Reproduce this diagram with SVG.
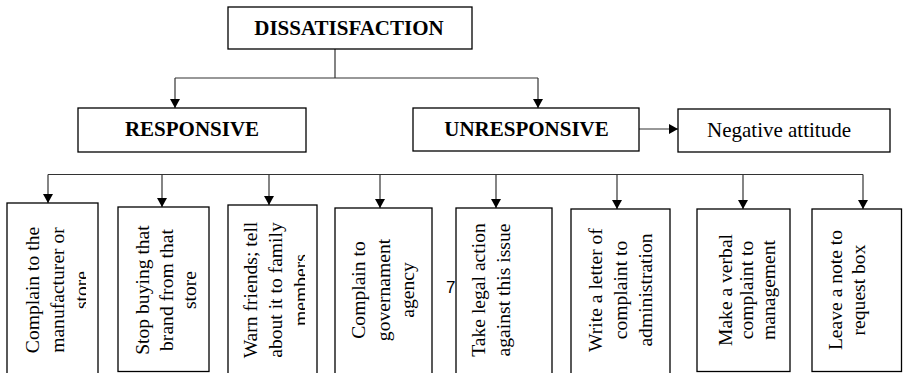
<svg xmlns="http://www.w3.org/2000/svg" width="903" height="373" viewBox="0 0 903 373">
<style>
.box{fill:#fff;stroke:#000;stroke-width:1.3}
.h{font-family:"Liberation Serif","Times New Roman",serif;font-size:21px;fill:#000;text-anchor:middle}
.b{font-weight:bold}
.v{font-family:"Liberation Serif","Times New Roman",serif;font-size:18.5px;fill:#000;text-anchor:middle}
.c{fill:none;stroke:#333;stroke-width:1.2}
</style>
<defs>
<marker id="ah" viewBox="0 0 9 10" markerWidth="9" markerHeight="10" refX="9" refY="5" orient="auto" markerUnits="userSpaceOnUse">
<path d="M0,0 L9,5 L0,10 z" fill="#000"/>
</marker>
<clipPath id="clip1"><rect x="7" y="203" width="79" height="170"/></clipPath>
<clipPath id="clip3"><rect x="228" y="205" width="77" height="170"/></clipPath>
</defs>

<text x="446" y="293" font-family="Liberation Sans, Arial, sans-serif" font-size="17" fill="#000">7</text>

<g id="connectors">
<path class="c" d="M335,49 V78 M175,78 H538"/>
<path class="c" d="M175,78 V108" marker-end="url(#ah)"/>
<path class="c" d="M538,78 V108" marker-end="url(#ah)"/>
<path class="c" d="M639,129 H678" marker-end="url(#ah)"/>
<path class="c" d="M48,174.5 H863"/>
<path class="c" d="M48,174.5 V203" marker-end="url(#ah)"/>
<path class="c" d="M162,174.5 V207" marker-end="url(#ah)"/>
<path class="c" d="M269,174.5 V205" marker-end="url(#ah)"/>
<path class="c" d="M380,174.5 V208" marker-end="url(#ah)"/>
<path class="c" d="M496,174.5 V208" marker-end="url(#ah)"/>
<path class="c" d="M617,174.5 V209" marker-end="url(#ah)"/>
<path class="c" d="M743,174.5 V209" marker-end="url(#ah)"/>
<path class="c" d="M863,174.5 V209" marker-end="url(#ah)"/>
</g>

<g id="dissatisfaction">
<rect class="box" x="228" y="7" width="244" height="42"/>
<text class="h b" x="349" y="35" font-size="21.5">DISSATISFACTION</text>
</g>
<g id="responsive">
<rect class="box" x="78" y="108" width="228" height="44"/>
<text class="h b" x="192" y="136">RESPONSIVE</text>
</g>
<g id="unresponsive">
<rect class="box" x="413" y="108" width="226" height="43"/>
<text class="h b" x="526.5" y="135.5">UNRESPONSIVE</text>
</g>
<g id="negative">
<rect class="box" x="678" y="109" width="212" height="43"/>
<text class="h" x="779" y="137">Negative attitude</text>
</g>

<g id="r1">
<rect class="box" x="7" y="203" width="91" height="180"/>
<g clip-path="url(#clip1)">
<text class="v" transform="translate(0 290) rotate(-90) scale(1.06 1)"><tspan x="0" y="39.5">Complain to the</tspan><tspan x="0" y="64">manufacturer or</tspan><tspan x="0" y="88.5">store</tspan></text>
</g>
</g>
<g id="r2">
<rect class="box" x="118" y="207" width="91" height="164.5"/>
<text class="v" transform="translate(0 290) rotate(-90) scale(1.06 1)"><tspan x="0" y="149.5">Stop buying that</tspan><tspan x="0" y="173">brand from that</tspan><tspan x="0" y="196.5">store</tspan></text>
</g>
<g id="r3">
<rect class="box" x="228" y="205" width="89" height="180"/>
<g clip-path="url(#clip3)">
<text class="v" transform="translate(0 290) rotate(-90) scale(1.06 1)"><tspan x="0" y="257.5">Warn friends; tell</tspan><tspan x="0" y="282.5">about it to family</tspan><tspan x="0" y="307.5">members</tspan></text>
</g>
</g>
<g id="r4">
<rect class="box" x="335" y="208" width="97" height="180"/>
<text class="v" transform="translate(0 290) rotate(-90) scale(1.06 1)"><tspan x="0" y="365.5">Complain to</tspan><tspan x="0" y="390">governament</tspan><tspan x="0" y="414.5">agency</tspan></text>
</g>
<g id="r5">
<rect class="box" x="456" y="208" width="96" height="180"/>
<text class="v" transform="translate(0 290) rotate(-90) scale(1.06 1)"><tspan x="0" y="485.5">Take legal action</tspan><tspan x="0" y="510">against this issue</tspan></text>
</g>
<g id="r6">
<rect class="box" x="571" y="209" width="99" height="180"/>
<text class="v" transform="translate(0 290) rotate(-90) scale(1.06 1)"><tspan x="0" y="602">Write a letter of</tspan><tspan x="0" y="627">complaint to</tspan><tspan x="0" y="652">administration</tspan></text>
</g>
<g id="r7">
<rect class="box" x="697" y="209" width="93" height="162.5"/>
<text class="v" transform="translate(0 290) rotate(-90) scale(1.06 1)"><tspan x="0" y="732">Make a verbal</tspan><tspan x="0" y="753.5">complaint to</tspan><tspan x="0" y="775">management</tspan></text>
</g>
<g id="r8">
<rect class="box" x="812" y="209" width="89.5" height="162.5"/>
<text class="v" transform="translate(0 290) rotate(-90) scale(1.06 1)"><tspan x="0" y="842.5">Leave a note to</tspan><tspan x="0" y="865.5">request box</tspan></text>
</g>
</svg>
